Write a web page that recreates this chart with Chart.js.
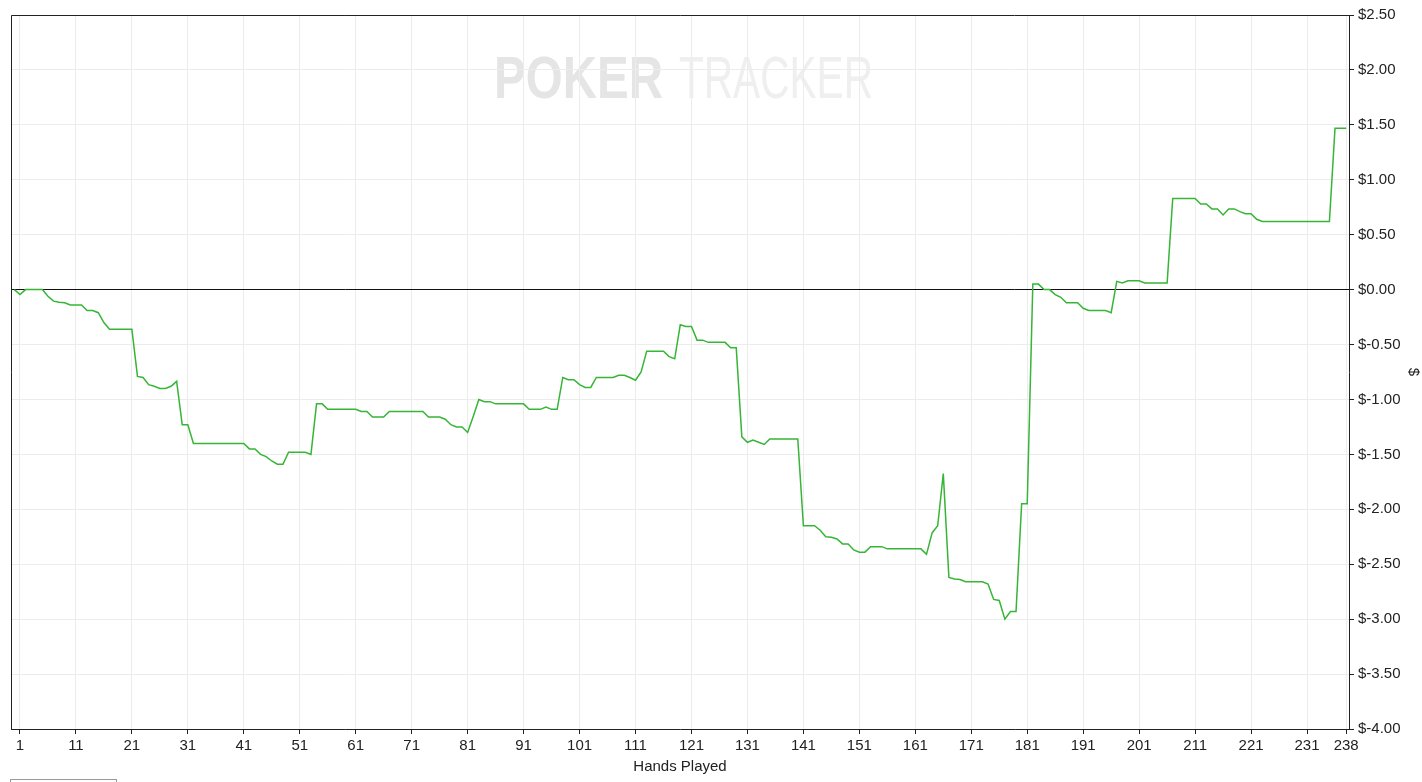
<!DOCTYPE html>
<html>
<head>
<meta charset="utf-8">
<script src="https://cdn.jsdelivr.net/npm/chart.js@4/dist/chart.umd.min.js"></script>
<style>
  html, body { margin: 0; padding: 0; background: #fff; overflow: hidden; }
  #wrap { position: relative; width: 1422px; height: 782px; }
  #legendBox { position: absolute; left: 10px; top: 779px; width: 105px; height: 20px; border: 1px solid #999; background: #fff; }
</style>
</head>
<body>
<div id="wrap">
  <canvas id="c" width="1422" height="782"></canvas>
  <div id="legendBox"></div>
</div>
<script>
// Cumulative winnings ($) after each hand, hand 0 .. 238
const winnings = [
  0, -0.045, 0, 0, 0, 0, -0.06, -0.105, -0.115, -0.12,
  -0.14, -0.14, -0.14, -0.19, -0.19, -0.21, -0.30, -0.36, -0.36, -0.36,
  -0.36, -0.36, -0.79, -0.80, -0.865, -0.88, -0.90, -0.90, -0.88, -0.835,
  -1.23, -1.23, -1.40, -1.40, -1.40, -1.40, -1.40, -1.40, -1.40, -1.40,
  -1.40, -1.40, -1.45, -1.45, -1.50, -1.52, -1.56, -1.59, -1.59, -1.48,
  -1.48, -1.48, -1.48, -1.50, -1.04, -1.04, -1.09, -1.09, -1.09, -1.09,
  -1.09, -1.09, -1.11, -1.11, -1.16, -1.16, -1.16, -1.11, -1.11, -1.11,
  -1.11, -1.11, -1.11, -1.11, -1.16, -1.16, -1.16, -1.18, -1.23, -1.25,
  -1.25, -1.30, -1.155, -1.00, -1.02, -1.02, -1.04, -1.04, -1.04, -1.04,
  -1.04, -1.04, -1.09, -1.09, -1.09, -1.07, -1.09, -1.09, -0.80, -0.82,
  -0.82, -0.865, -0.89, -0.89, -0.80, -0.80, -0.80, -0.80, -0.78, -0.78,
  -0.80, -0.825, -0.75, -0.56, -0.56, -0.56, -0.56, -0.61, -0.63, -0.32,
  -0.335, -0.335, -0.46, -0.46, -0.48, -0.48, -0.48, -0.48, -0.53, -0.53,
  -1.34, -1.39, -1.37, -1.39, -1.41, -1.36, -1.36, -1.36, -1.36, -1.36,
  -1.36, -2.15, -2.15, -2.15, -2.19, -2.25, -2.255, -2.27, -2.315, -2.315,
  -2.37, -2.39, -2.39, -2.34, -2.34, -2.34, -2.36, -2.36, -2.36, -2.36,
  -2.36, -2.36, -2.36, -2.41, -2.215, -2.15, -1.675, -2.62, -2.635, -2.64,
  -2.66, -2.66, -2.66, -2.66, -2.68, -2.82, -2.83, -3.00, -2.93, -2.93,
  -1.95, -1.95, 0.05, 0.05, 0.00, 0.00, -0.045, -0.07, -0.12, -0.12,
  -0.12, -0.17, -0.19, -0.19, -0.19, -0.19, -0.21, 0.075, 0.06, 0.08,
  0.08, 0.08, 0.06, 0.06, 0.06, 0.06, 0.06, 0.83, 0.83, 0.83,
  0.83, 0.83, 0.78, 0.78, 0.735, 0.735, 0.68, 0.735, 0.735, 0.71,
  0.69, 0.69, 0.64, 0.62, 0.62, 0.62, 0.62, 0.62, 0.62, 0.62,
  0.62, 0.62, 0.62, 0.62, 0.62, 0.62, 1.47, 1.47, 1.47
];
// Hand numbers shown on the x axis
const xTickValues = [1, 11, 21, 31, 41, 51, 61, 71, 81, 91, 101, 111, 121, 131, 141, 151, 161, 171, 181, 191, 201, 211, 221, 231, 238];
// Dollar axis range and step
const yMin = -4.0;
const yMax = 2.5;
const yStep = 0.5;
const xTitle = 'Hands Played';
const yTitle = '$';
const watermarkA = 'POKER';
const watermarkB = 'TRACKER';

const points = winnings.map((v, i) => ({ x: i, y: v }));
const FONT = "'Liberation Sans', Arial, sans-serif";
Chart.defaults.font.family = FONT;
Chart.defaults.font.size = 15;
Chart.defaults.color = '#222';

const watermark = {
  id: 'watermark',
  beforeDraw(chart) {
    const ctx = chart.ctx;
    ctx.save();
    ctx.textBaseline = 'alphabetic';
    ctx.font = "bold 60px " + FONT;
    let w = ctx.measureText(watermarkA).width;
    ctx.fillStyle = '#e5e5e5';
    ctx.translate(494, 98);
    ctx.scale(169 / w, 1);
    ctx.fillText(watermarkA, 0, 0);
    ctx.restore();
    ctx.save();
    ctx.font = "60px " + FONT;
    w = ctx.measureText(watermarkB).width;
    ctx.fillStyle = '#efefef';
    ctx.translate(679, 98);
    ctx.scale(194 / w, 1);
    ctx.fillText(watermarkB, 0, 0);
    ctx.restore();
  }
};
const frame = {
  id: 'frame',
  afterDraw(chart) {
    const a = chart.chartArea;
    const ctx = chart.ctx;
    ctx.save();
    ctx.strokeStyle = '#222';
    ctx.lineWidth = 1;
    ctx.beginPath();
    ctx.moveTo(Math.round(a.left) + 0.5, Math.round(a.bottom));
    ctx.lineTo(Math.round(a.left) + 0.5, Math.round(a.top) + 0.5);
    ctx.lineTo(Math.round(a.right), Math.round(a.top) + 0.5);
    ctx.stroke();
    ctx.restore();
  }
};

new Chart(document.getElementById('c'), {
  type: 'line',
  data: {
    datasets: [{
      data: points,
      borderColor: '#36b536',
      borderWidth: 1.5,
      pointRadius: 0,
      tension: 0,
      fill: false
    }]
  },
  options: {
    responsive: false,
    animation: false,
    layout: { padding: { left: 11, top: 15, right: 0, bottom: 0 } },
    plugins: { legend: { display: false }, tooltip: { enabled: false } },
    scales: {
      x: {
        type: 'linear',
        min: -0.6,
        max: 238.5,
        afterBuildTicks(scale) { scale.ticks = xTickValues.map(v => ({ value: v })); },
        afterFit(scale) { scale.height = 53; },
        ticks: { autoSkip: false, maxRotation: 0, padding: 3, color: '#222', callback: v => String(v) },
        grid: { color: '#ececec', tickColor: '#222', tickLength: 5, lineWidth: 1 },
        border: { color: '#222', width: 1 },
        title: { display: true, text: xTitle, color: '#222', padding: { top: 0, bottom: 6 } }
      },
      y: {
        position: 'right',
        min: yMin,
        max: yMax,
        afterFit(scale) { scale.width = 73; },
        ticks: {
          stepSize: yStep,
          padding: 4,
          color: '#222',
          callback: v => (v < 0 ? '$-' + Math.abs(v).toFixed(2) : '$' + v.toFixed(2))
        },
        grid: {
          color: c => (c.tick && Math.abs(c.tick.value) < 1e-9 ? '#111' : '#ececec'),
          tickColor: '#222',
          tickLength: 5,
          lineWidth: 1
        },
        border: { color: '#222', width: 1 },
        title: { display: true, text: yTitle, color: '#222', padding: { top: 0, bottom: 0 } }
      }
    }
  },
  plugins: [watermark, frame]
});
</script>
</body>
</html>
